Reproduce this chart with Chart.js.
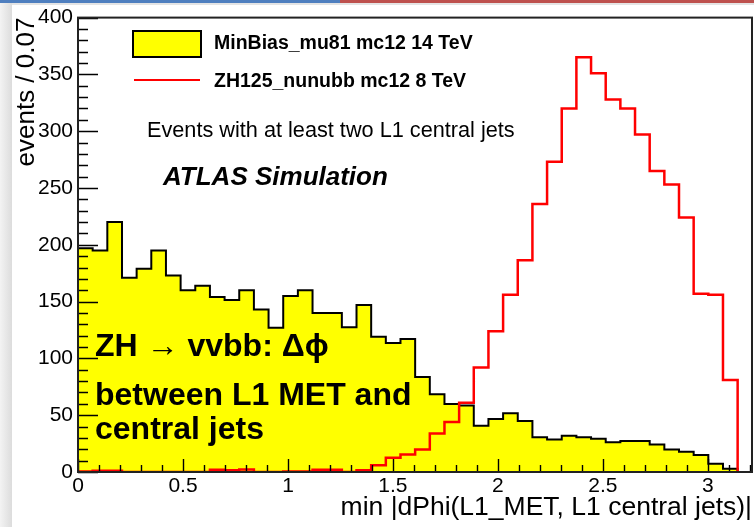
<!DOCTYPE html>
<html>
<head>
<meta charset="utf-8">
<script src="https://cdn.jsdelivr.net/npm/chart.js@4.4.1/dist/chart.umd.min.js"></script>
<style>
html,body{margin:0;padding:0;background:#fff;}
#wrap{position:relative;width:754px;height:527px;overflow:hidden;background:#fff;}
#bluebar{position:absolute;left:0;top:0;width:340px;height:3px;background:#4f7fbf;}
#redbar{position:absolute;left:340px;top:0;width:414px;height:3px;background:#bd504d;}
#greyline{position:absolute;left:0;top:3px;width:754px;height:2px;background:#e4e4e4;}
#leftshade{position:absolute;left:0;top:3px;width:12px;height:524px;background:linear-gradient(to right,#f3f3f3,#dcdcdc);}
canvas{position:absolute;left:0;top:0;}
</style>
</head>
<body>
<div id="wrap">
  <div id="bluebar"></div><div id="redbar"></div><div id="greyline"></div><div id="leftshade"></div>
  <canvas id="c" width="754" height="527"></canvas>
</div>
<script>
// ---- data (45 bins between 0 and pi) ----
const histLow = 0;
const histHigh = Math.PI;
const axisMax = 3.21;
const minBiasCounts = [197,195,220,171,179,195,173,160,164,154,
                       151.5,160,143,127,155,160,140,140,127.5,147,
                       119,113.5,117,83.7,68.5,59.8,58.5,40.8,46.6,51.7,
                       44.8,30.6,28.6,32,30.6,29.2,26.2,27.2,27.2,24.3,
                       19.7,17.8,15,7.3,2.8];
const zhCounts = [0.5,1,1,0,0,0,0,0,0,2,
                  1.5,2.3,0,0,0.5,0.5,2,2,0,1.5,
                  6,12.5,15.5,19.7,34,44,61,92,124,156,
                  186.5,236,273,320,365,351,328,320,297,265,
                  253,224,157,156,81];
const seriesLabels = ['MinBias_mu81 mc12 14 TeV', 'ZH125_nunubb mc12 8 TeV'];
const xTickValues = [0,0.5,1,1.5,2,2.5,3];
const yTickValues = [0,50,100,150,200,250,300,350,400];
const xTitle = 'min |dPhi(L1_MET, L1 central jets)|';
const yTitle = 'events / 0.07';
const noteText = 'Events with at least two L1 central jets';
const atlasText = 'ATLAS Simulation';
const bigText = ['ZH \u2192 vvbb: \u0394\u03d5', 'between L1 MET and', 'central jets'];

const FONT = "'Liberation Sans', Arial, Helvetica, sans-serif";
Chart.defaults.font.family = FONT;
Chart.defaults.color = '#000';

function histPoints(vals){
  const w = (histHigh - histLow) / vals.length;
  const pts = [{x: histLow, y: 0}];
  vals.forEach((v, i) => pts.push({x: histLow + i * w, y: v}));
  pts.push({x: histLow + vals.length * w, y: 0});
  return pts;
}

const frameTicks = {
  id: 'frameTicks',
  afterDatasetsDraw(chart){
    const {ctx, chartArea: a, scales: {x, y}} = chart;
    ctx.save();
    ctx.strokeStyle = '#000';
    ctx.lineWidth = 1.4;
    ctx.beginPath();
    for (let v = 0; v <= 400.001; v += 10){
      const py = Math.round(y.getPixelForValue(v)) + 0.5;
      const len = (Math.round(v) % 50 === 0) ? 20 : 10;
      ctx.moveTo(a.left, py); ctx.lineTo(a.left + len, py);
    }
    for (let k = 0; k <= 32; k++){
      const v = k / 10;
      const px = Math.round(x.getPixelForValue(v)) + 0.5;
      const len = (k % 5 === 0) ? 13 : 7;
      ctx.moveTo(px, a.bottom); ctx.lineTo(px, a.bottom - len);
    }
    ctx.stroke();
    ctx.strokeStyle = '#222';
    ctx.lineWidth = 2;
    ctx.strokeRect(a.left, a.top, a.right - a.left, a.bottom - a.top);
    ctx.restore();
  }
};

const overlay = {
  id: 'overlay',
  afterDraw(chart){
    const ctx = chart.ctx;
    ctx.save();
    // legend
    ctx.fillStyle = '#ffff00';
    ctx.fillRect(133, 31, 68, 26);
    ctx.strokeStyle = '#000'; ctx.lineWidth = 2;
    ctx.strokeRect(133, 31, 68, 26);
    ctx.strokeStyle = '#ff0000'; ctx.lineWidth = 2;
    ctx.beginPath(); ctx.moveTo(134, 80); ctx.lineTo(200, 80); ctx.stroke();
    ctx.fillStyle = '#000';
    ctx.textBaseline = 'alphabetic';
    ctx.textAlign = 'left';
    ctx.font = 'bold 19.5px ' + FONT;
    ctx.fillText(seriesLabels[0], 214, 49);
    ctx.fillText(seriesLabels[1], 214, 87);
    ctx.font = '21.7px ' + FONT;
    ctx.fillText(noteText, 147, 137);
    ctx.font = 'italic bold 26px ' + FONT;
    ctx.fillText(atlasText, 163, 185);
    ctx.font = 'bold 32px ' + FONT;
    ctx.fillText(bigText[0], 95, 356);
    ctx.fillText(bigText[1], 95, 405);
    ctx.fillText(bigText[2], 95, 439);
    ctx.restore();
  }
};

new Chart(document.getElementById('c'), {
  type: 'line',
  data: {
    datasets: [
      {
        label: seriesLabels[1],
        data: histPoints(zhCounts),
        stepped: true,
        borderColor: '#ff0000',
        borderWidth: 2.5,
        fill: false,
        pointRadius: 0,
        order: 0
      },
      {
        label: seriesLabels[0],
        data: histPoints(minBiasCounts),
        stepped: true,
        borderColor: '#000000',
        borderWidth: 2,
        backgroundColor: '#ffff00',
        fill: 'origin',
        pointRadius: 0,
        order: 1
      }
    ]
  },
  options: {
    responsive: false,
    devicePixelRatio: 1,
    animation: false,
    layout: {padding: {left: 0, top: 14, right: 2, bottom: 0}},
    plugins: {legend: {display: false}, tooltip: {enabled: false}},
    scales: {
      x: {
        type: 'linear', min: 0, max: axisMax,
        grid: {display: false, drawTicks: false},
        border: {display: false},
        afterBuildTicks: s => { s.ticks = xTickValues.map(v => ({value: v})); },
        afterFit: s => { s.height = 55; },
        ticks: {padding: 2, color: '#000', font: {size: 21}, maxRotation: 0, autoSkip: false, callback: v => String(v)},
        title: {display: true, text: xTitle, align: 'end', color: '#000', font: {size: 26.5}, padding: {top: 0, bottom: 3}}
      },
      y: {
        type: 'linear', min: 0, max: 400,
        grid: {display: false, drawTicks: false},
        border: {display: false},
        afterBuildTicks: s => { s.ticks = yTickValues.map(v => ({value: v})); },
        afterFit: s => { s.width = 78; },
        ticks: {padding: 5, color: '#000', font: {size: 21}, autoSkip: false, callback: v => String(v)},
        title: {display: true, text: yTitle, align: 'end', color: '#000', font: {size: 26}, padding: {top: 11, bottom: 0}}
      }
    }
  },
  plugins: [frameTicks, overlay]
});
</script>
</body>
</html>
